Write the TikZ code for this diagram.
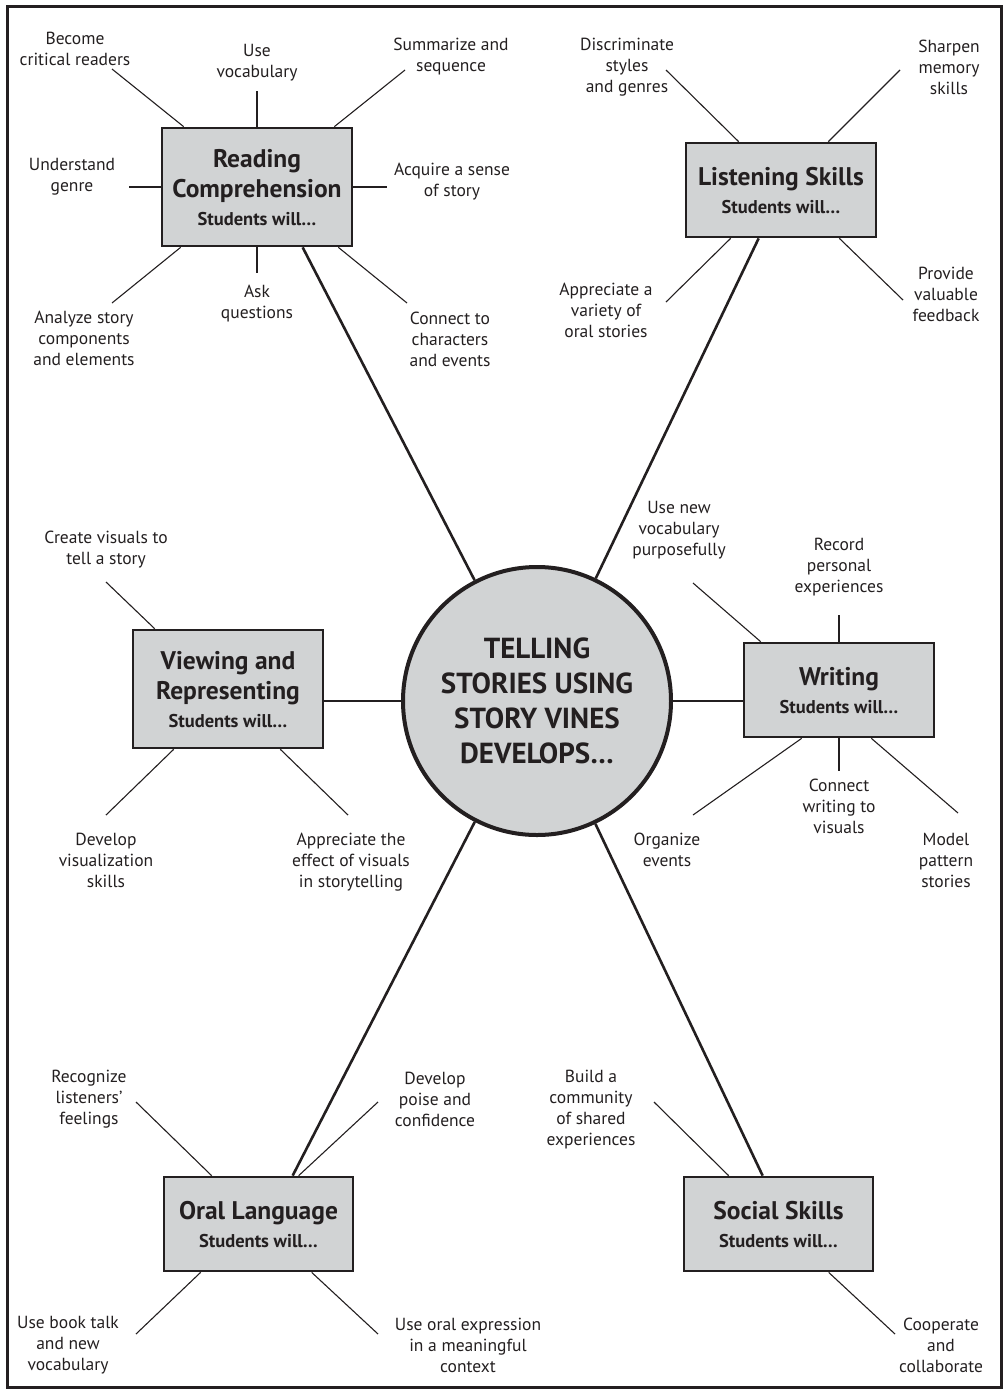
\documentclass[tikz,border=0pt]{standalone}
\usepackage{fontspec}
\setmainfont{PT Sans}
\usetikzlibrary{calc}
\definecolor{boxgray}{RGB}{209,211,212}
\definecolor{ink}{RGB}{35,31,32}
\tikzset{
  box/.style={draw=ink, line width=2.7pt, fill=boxgray, minimum width=190pt, inner sep=0pt},
  tall/.style={minimum height=118pt},
  short/.style={minimum height=94pt},
  ttl/.style={font=\bfseries\fontsize{25.5}{30}\selectfont, anchor=base, inner sep=0pt, text=ink},
  stu/.style={font=\bfseries\fontsize{18.5}{20}\selectfont, anchor=base, inner sep=0pt, text=ink},
  lbl/.style={font=\fontsize{17.5}{21}\selectfont, align=center, inner sep=0pt, text=ink},
  spoke/.style={draw=ink, line width=1.1pt},
  trunk/.style={draw=ink, line width=2.6pt},
  hub/.style={draw=ink, line width=2.3pt}
}
\begin{document}
\begin{tikzpicture}[x=1pt, y=-1pt]
\useasboundingbox (0,0) rectangle (1007,1393);
\draw[draw=ink, line width=3pt] (7,6) rectangle (1001,1387);

% central circle
\node[circle, draw=ink, line width=4pt, fill=boxgray, minimum size=268pt, inner sep=0pt,
      font=\bfseries\fontsize{29}{35}\selectfont, align=center, text=ink] (c) at (537,701)
  {TELLING\\STORIES USING\\STORY VINES\\DEVELOPS…};

% boxes
\node[box, tall]  (rc) at (257,187) {};
\node[box, short] (ls) at (781,190) {};
\node[box, tall]  (vr) at (228,689) {};
\node[box, short] (wr) at (839,690) {};
\node[box, short, minimum width=189pt] (ol) at (258.5,1224) {};
\node[box, short, minimum width=189pt] (ss) at (778.5,1224) {};

% box titles
\node[ttl] (rct1) at (257,167) {Reading};
\node[ttl] (rct2) at (257,197) {Comprehension};
\node[stu] (rcs)  at (257,225) {Students will…};
\node[ttl] (lst1) at (781,185) {Listening Skills};
\node[stu] (lss)  at (781,213) {Students will…};
\node[ttl] (vrt1) at (228,669) {Viewing and};
\node[ttl] (vrt2) at (228,699) {Representing};
\node[stu] (vrs)  at (228,727) {Students will…};
\node[ttl] (wrt1) at (839,685) {Writing};
\node[stu] (wrs)  at (839,713) {Students will…};
\node[ttl] (olt1) at (258.5,1219) {Oral Language};
\node[stu] (ols)  at (258.5,1247) {Students will…};
\node[ttl] (sst1) at (778.5,1219) {Social Skills};
\node[stu] (sss)  at (778.5,1247) {Students will…};

% trunks from hub to boxes
\coordinate (ra) at ($(rc.south west)+(142,0)$);
\coordinate (la) at ($(ls.south west)+(74,0)$);
\coordinate (oa) at ($(ol.north west)+(130,0)$);
\coordinate (sa) at ($(ss.north west)+(80,0)$);
\draw[trunk] (ra) -- (c);
\draw[trunk] (la) -- (c);
\draw[trunk] (oa) -- (c);
\draw[trunk] (sa) -- (c);
\draw[hub] (c.west) -- (c.west -| vr.east);
\draw[hub] (c.east) -- (c.east -| wr.west);

% free ends of spokes
\coordinate (r1) at (112,69);
\coordinate (r2) at (257,91);
\coordinate (r3) at (405,70);
\coordinate (r4) at (129,187);
\coordinate (r5) at (387,187);
\coordinate (r6) at (112,303);
\coordinate (r7) at (257,273);
\coordinate (r8) at (407,303);
\coordinate (l1) at (666,70);
\coordinate (l2) at (900,70);
\coordinate (l3) at (666,302);
\coordinate (l4) at (903,300);
\coordinate (v1) at (106,582);
\coordinate (v2) at (106,815);
\coordinate (v3) at (348,815);
\coordinate (w1) at (693,583);
\coordinate (w2) at (839,615);
\coordinate (w3) at (693,815);
\coordinate (w4) at (839,771);
\coordinate (w5) at (958,813);
\coordinate (o1) at (136,1102);
\coordinate (o2) at (378,1102);
\coordinate (o3) at (136,1334);
\coordinate (o4) at (378,1334);
\coordinate (s1) at (654,1102);
\coordinate (s2) at (895,1334);

% spokes
\draw[spoke] ($(rc.north west)+(23,0)$) -- (r1);
\draw[spoke] (rc.north) -- (r2);
\draw[spoke] ($(rc.north east)+(-19,0)$) -- (r3);
\draw[spoke] (rc.west) -- (r4);
\draw[spoke] (rc.east) -- (r5);
\draw[spoke] ($(rc.south west)+(20,0)$) -- (r6);
\draw[spoke] (rc.south) -- (r7);
\draw[spoke] ($(rc.south east)+(-15,0)$) -- (r8);

\draw[spoke] ($(ls.north west)+(54,0)$) -- (l1);
\draw[spoke] ($(ls.north east)+(-49,0)$) -- (l2);
\draw[spoke] ($(ls.south west)+(46,0)$) -- (l3);
\draw[spoke] ($(ls.south east)+(-38,0)$) -- (l4);

\draw[spoke] ($(vr.north west)+(23,0)$) -- (v1);
\draw[spoke] ($(vr.south west)+(42,0)$) -- (v2);
\draw[spoke] ($(vr.south east)+(-44,0)$) -- (v3);

\draw[spoke] ($(wr.north west)+(18,0)$) -- (w1);
\draw[spoke] (wr.north) -- (w2);
\draw[spoke] ($(wr.south west)+(59,0)$) -- (w3);
\draw[spoke] (wr.south) -- (w4);
\draw[spoke] ($(wr.south east)+(-64,0)$) -- (w5);

\draw[spoke] ($(ol.north west)+(49,0)$) -- (o1);
\draw[spoke] ($(ol.north west)+(136,0)$) -- (o2);
\draw[spoke] ($(ol.south west)+(38,0)$) -- (o3);
\draw[spoke] ($(ol.south west)+(149,0)$) -- (o4);

\draw[spoke] ($(ss.north west)+(46,0)$) -- (s1);
\draw[spoke] ($(ss.south west)+(146,0)$) -- (s2);

% labels: reading
\node[lbl] (tr1) at (75,49) {Become\\critical readers};
\node[lbl] (tr2) at (257,63) {Use\\vocabulary};
\node[lbl] (tr3) at (451,57) {Summarize and\\sequence};
\node[lbl] (tr4) at (72,177) {Understand\\genre};
\node[lbl] (tr5) at (452,182) {Acquire a sense\\of story};
\node[lbl] (tr6) at (84,338) {Analyze story\\components\\and elements};
\node[lbl] (tr7) at (257,304) {Ask\\questions};
\node[lbl] (tr8) at (450,339) {Connect to\\characters\\and events};
% listening
\node[lbl] (tl1) at (627,67) {Discriminate\\styles\\and genres};
\node[lbl] (tl2) at (949,67) {Sharpen\\memory\\skills};
\node[lbl] (tl3) at (606,310) {Appreciate a\\variety of\\oral stories};
\node[lbl] (tl4) at (946,294) {Provide\\valuable\\feedback};
% viewing
\node[lbl] (tv1) at (106,550) {Create visuals to\\tell a story};
\node[lbl] (tv2) at (106,860) {Develop\\visualization\\skills};
\node[lbl] (tv3) at (351,862) {Appreciate the\\effect of visuals\\in storytelling};
% writing
\node[lbl] (tw1) at (679,530) {Use new\\vocabulary\\purposefully};
\node[lbl] (tw2) at (839,567) {Record\\personal\\experiences};
\node[lbl] (tw3) at (667,850) {Organize\\events};
\node[lbl] (tw4) at (839,806) {Connect\\writing to\\visuals};
\node[lbl] (tw5) at (946,860) {Model\\pattern\\stories};
% oral
\node[lbl] (to1) at (89,1099) {Recognize\\listeners’\\feelings};
\node[lbl] (to2) at (435,1099) {Develop\\poise and\\confidence};
\node[lbl] (to3) at (68,1345) {Use book talk\\and new\\vocabulary};
\node[lbl] (to4) at (468,1345) {Use oral expression\\in a meaningful\\context};
% social
\node[lbl] (ts1) at (591,1110) {Build a\\community\\of shared\\experiences};
\node[lbl] (ts2) at (941,1345) {Cooperate\\and\\collaborate};
\end{tikzpicture}
\end{document}
